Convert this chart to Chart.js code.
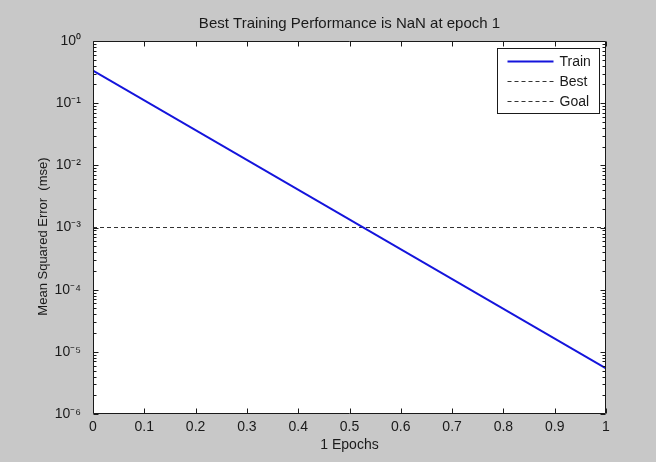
<!DOCTYPE html>
<html>
<head>
<meta charset="utf-8">
<script src="https://cdn.jsdelivr.net/npm/chart.js@4.4.0/dist/chart.umd.min.js"></script>
<style>
  html, body { margin: 0; padding: 0; background: #c8c8c8; }
  #wrap { width: 656px; height: 462px; }
</style>
</head>
<body>
<div id="wrap"><canvas id="chartPerf" width="656" height="462"></canvas></div>
<script>
// values
const epochs = [0, 1];
const trainMse = [0.333, 5.4e-6];
const bestMse = [null, null]; // NaN in the original
const goalMse = [1e-3, 1e-3];

const xTicks = [0, 0.1, 0.2, 0.3, 0.4, 0.5, 0.6, 0.7, 0.8, 0.9, 1];
const yTicks = [1e-6, 1e-5, 1e-4, 1e-3, 1e-2, 1e-1, 1];
const yTickLabels = ['10⁻⁶', '10⁻⁵', '10⁻⁴', '10⁻³', '10⁻²', '10⁻¹', '10⁰'];

const fontFam = '"Liberation Sans", Arial, Helvetica, sans-serif';

// white plot area, box with inward ticks (matlab style)
const framePlugin = {
  id: 'frame',
  beforeDraw(chart) {
    const { ctx, chartArea: a } = chart;
    ctx.save();
    ctx.fillStyle = '#ffffff';
    ctx.fillRect(a.left, a.top, a.right - a.left, a.bottom - a.top);
    ctx.restore();
  },
  afterDatasetsDraw(chart) {
    const { ctx, chartArea: a, scales } = chart;
    const L = Math.round(a.left) + 0.5, R = Math.round(a.right) - 0.5;
    const T = Math.round(a.top) + 0.5, B = Math.round(a.bottom) - 0.5;
    ctx.save();
    ctx.strokeStyle = '#1a1a1a';
    ctx.lineWidth = 1;
    ctx.setLineDash([]);
    ctx.beginPath();
    ctx.rect(L, T, R - L, B - T);
    xTicks.forEach(v => {
      const px = Math.round(scales.x.getPixelForValue(v)) + 0.5;
      ctx.moveTo(px, B); ctx.lineTo(px, B - 5);
      ctx.moveTo(px, T); ctx.lineTo(px, T + 5);
    });
    yTicks.forEach((v, i) => {
      const py = Math.round(scales.y.getPixelForValue(v)) + 0.5;
      ctx.moveTo(L, py); ctx.lineTo(L + 5, py);
      ctx.moveTo(R, py); ctx.lineTo(R - 5, py);
      if (i < yTicks.length - 1) {
        for (let k = 2; k <= 9; k++) {
          const pm = Math.round(scales.y.getPixelForValue(v * k)) + 0.5;
          ctx.moveTo(L, pm); ctx.lineTo(L + 3, pm);
          ctx.moveTo(R, pm); ctx.lineTo(R - 3, pm);
        }
      }
    });
    ctx.stroke();
    ctx.restore();
  },
  afterDraw(chart) {
    // legend box in the top right corner of the axes
    const { ctx, chartArea: a } = chart;
    const w = 102, h = 65;
    const x0 = Math.round(a.right) - 7 - w + 0.5;
    const y0 = Math.round(a.top) + 7 + 0.5;
    ctx.save();
    ctx.fillStyle = '#ffffff';
    ctx.fillRect(x0, y0, w, h);
    ctx.strokeStyle = '#1a1a1a';
    ctx.lineWidth = 1;
    ctx.strokeRect(x0, y0, w, h);
    ctx.font = '14px ' + fontFam;
    ctx.textBaseline = 'middle';
    ctx.textAlign = 'left';
    chart.data.datasets.forEach((ds, i) => {
      const cy = y0 + 13 + i * 20;
      ctx.beginPath();
      ctx.strokeStyle = ds.borderColor;
      ctx.lineWidth = ds.borderWidth;
      ctx.setLineDash(ds.borderDash || []);
      ctx.moveTo(x0 + 10, cy);
      ctx.lineTo(x0 + 56, cy);
      ctx.stroke();
      ctx.fillStyle = '#1a1a1a';
      ctx.fillText(ds.label, x0 + 62, cy + 1);
    });
    ctx.restore();
  }
};

const ctx = document.getElementById('chartPerf').getContext('2d');

new Chart(ctx, {
  type: 'line',
  data: {
    datasets: [
      {
        label: 'Train',
        data: epochs.map((e, i) => ({ x: e, y: trainMse[i] })),
        borderColor: '#1414dc',
        borderWidth: 2,
        pointRadius: 0,
        fill: false
      },
      {
        label: 'Best',
        data: epochs.map((e, i) => ({ x: e, y: bestMse[i] })),
        borderColor: '#333333',
        borderWidth: 1,
        borderDash: [4, 3],
        pointRadius: 0,
        fill: false
      },
      {
        label: 'Goal',
        data: epochs.map((e, i) => ({ x: e, y: goalMse[i] })),
        borderColor: '#333333',
        borderWidth: 1,
        borderDash: [4, 3],
        pointRadius: 0,
        fill: false
      }
    ]
  },
  options: {
    responsive: false,
    animation: false,
    layout: { padding: { left: 0, right: 50, top: 0, bottom: 0 } },
    plugins: {
      legend: { display: false },
      tooltip: { enabled: false },
      title: {
        display: true,
        fullSize: false,
        text: 'Best Training Performance is NaN at epoch 1',
        color: '#1a1a1a',
        font: { family: fontFam, size: 15, weight: 'normal' },
        padding: { top: 15, bottom: 8 }
      }
    },
    scales: {
      x: {
        type: 'linear',
        min: 0,
        max: 1,
        afterBuildTicks: s => { s.ticks = xTicks.map(v => ({ value: v })); },
        afterFit: s => { s.height = 48; },
        grid: { display: false, drawTicks: false },
        border: { display: false },
        ticks: {
          autoSkip: false,
          maxRotation: 0,
          padding: 5,
          color: '#1a1a1a',
          font: { family: fontFam, size: 14 },
          callback: v => String(+Number(v).toFixed(1))
        },
        title: {
          display: true,
          text: '1 Epochs',
          color: '#1a1a1a',
          font: { family: fontFam, size: 14 },
          padding: { top: 0, bottom: 8.6 }
        }
      },
      y: {
        type: 'logarithmic',
        min: 1e-6,
        max: 1,
        afterBuildTicks: s => { s.ticks = yTicks.map(v => ({ value: v })); },
        afterFit: s => { s.width = 93; },
        grid: { display: false, drawTicks: false },
        border: { display: false },
        ticks: {
          autoSkip: false,
          padding: 12,
          color: '#1a1a1a',
          font: { family: fontFam, size: 14 },
          callback: (v, i) => yTickLabels[i]
        },
        title: {
          display: true,
          text: 'Mean Squared Error  (mse)     ',
          color: '#1a1a1a',
          font: { family: fontFam, size: 13 },
          padding: { top: 36, bottom: 0 }
        }
      }
    }
  },
  plugins: [framePlugin]
});
</script>
</body>
</html>
